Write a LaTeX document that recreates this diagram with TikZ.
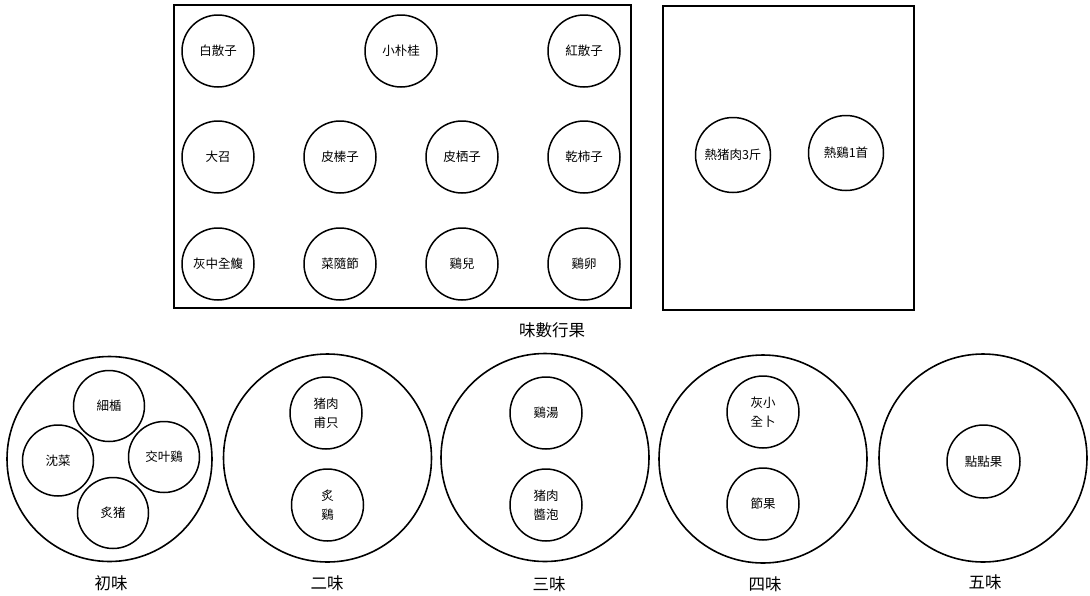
\documentclass[tikz,border=0pt]{standalone}
\usepackage{fontspec}
\setmainfont{Noto Sans CJK TC}
\begin{document}
\begin{tikzpicture}[x=1pt,y=-1pt,
  dish/.style={draw,circle,line width=1.5pt,inner sep=0pt,minimum size=72pt,
    font=\fontsize{12.5}{19}\selectfont,align=center},
  bigdish/.style={draw,circle,line width=1.6pt,inner sep=0pt,minimum size=208pt},
  tray/.style={draw,line width=1.7pt,inner sep=0pt},
  caption/.style={font=\fontsize{16.5}{20}\selectfont,inner sep=0pt}]
\useasboundingbox (0,0) rectangle (1090,595);
% trays
\node[tray,minimum width=457pt,minimum height=303pt] (trayA) at (402.5,156.5) {};
\node[tray,minimum width=251pt,minimum height=304pt] (trayB) at (788.5,158) {};
% tray A dishes
\node[dish] (a1) at (218,51) {白散子};
\node[dish] (a2) at (401,51) {小朴桂};
\node[dish] (a3) at (584,51) {紅散子};
\node[dish] (b1) at (218,157) {大召};
\node[dish] (b2) at (340,157) {皮榛子};
\node[dish] (b3) at (462,157) {皮栖子};
\node[dish] (b4) at (584,157) {乾柿子};
\node[dish] (c1) at (218,264) {灰中全鰒};
\node[dish] (c2) at (340,264) {菜隨節};
\node[dish] (c3) at (462,264) {鷄兒};
\node[dish] (c4) at (584,264) {鷄卵};
% tray B dishes
\node[dish,minimum size=75pt] (d1) at (733,155) {熱猪肉3斤};
\node[dish,minimum size=75pt] (d2) at (846,153) {熱鷄1首};
\node[caption] (capA) at (552,330) {味數行果};
% course 1
\node[bigdish,minimum size=205pt] (o1) at (109.5,459) {};
\node[dish,minimum size=71pt] (e1) at (109,406) {細楯};
\node[dish,minimum size=71pt] (e2) at (58,460.5) {沈菜};
\node[dish,minimum size=71pt] (e3) at (164,457) {交叶鷄};
\node[dish,minimum size=71pt] (e4) at (113,513) {炙猪};
\node[caption] (cap1) at (111,583) {初味};
% course 2
\node[bigdish] (o2) at (327.5,458) {};
\node[dish] (f1) at (326,413) {猪肉\\甫只};
\node[dish] (f2) at (327.5,505) {炙\\鷄};
\node[caption] (cap2) at (327,583) {二味};
% course 3
\node[bigdish] (o3) at (545,457.5) {};
\node[dish] (g1) at (546,413) {鷄湯};
\node[dish] (g2) at (546,505) {猪肉\\醬泡};
\node[caption] (cap3) at (549,584) {三味};
% course 4
\node[bigdish] (o4) at (763,459) {};
\node[dish] (h1) at (763,412) {灰小\\全卜};
\node[dish] (h2) at (763,504) {節果};
\node[caption] (cap4) at (765,584) {四味};
% course 5
\node[bigdish] (o5) at (983,458) {};
\node[dish,minimum size=73pt] (i1) at (983.5,461.5) {點點果};
\node[caption] (cap5) at (985,582) {五味};
\end{tikzpicture}
\end{document}
